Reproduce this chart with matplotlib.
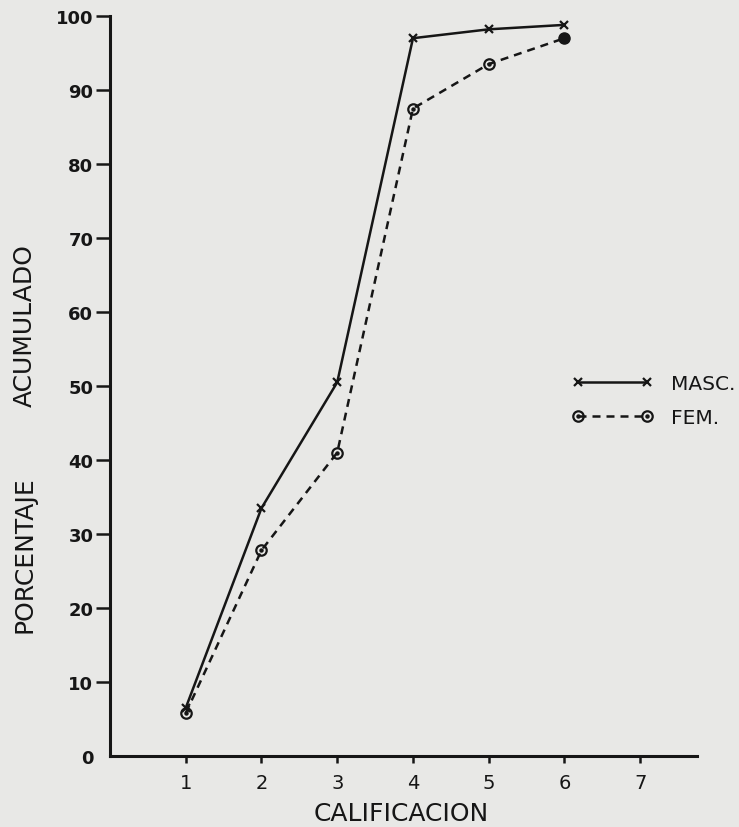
import matplotlib
matplotlib.use("Agg")
import matplotlib.pyplot as plt
from matplotlib.legend_handler import HandlerTuple

# Cumulative percentage by grade
calificacion = [1, 2, 3, 4, 5, 6]
masc = [6.5, 33.5, 50.5, 97.0, 98.2, 98.8]
fem = [5.8, 27.8, 41.0, 87.5, 93.5, 97.0]

x_ticks = [1, 2, 3, 4, 5, 6, 7]
y_ticks = [0, 10, 20, 30, 40, 50, 60, 70, 80, 90, 100]

ink = "#161616"
paper = "#e8e8e6"

plt.rcParams["font.family"] = ["DejaVu Sans"]

fig = plt.figure(figsize=(7.39, 8.28), dpi=100, facecolor=paper)
ax = fig.add_axes([110 / 739, 1 - 757 / 828, 587 / 739, 740 / 828])
ax.set_facecolor(paper)

# MASC: solid line with x markers
ax.plot(calificacion, masc, color=ink, lw=1.8, marker="x",
        markersize=5.5, markeredgewidth=1.6)

# FEM: dashed line with dotted-circle markers; last point filled
ax.plot(calificacion, fem, color=ink, lw=1.8, ls=(0, (3.2, 2.4)),
        marker="o", markersize=7.5, markerfacecolor="none",
        markeredgewidth=1.6, markevery=list(range(len(fem) - 1)))
ax.plot(calificacion[:-1], fem[:-1], ls="none", marker="o",
        markersize=2.2, color=ink)
ax.plot(calificacion[-1:], fem[-1:], ls="none", marker="o",
        markersize=8, color=ink)

ax.set_xlim(0, 7.75)
ax.set_ylim(0, 100)
ax.set_xticks(x_ticks)
ax.set_yticks(y_ticks)
ax.set_xticklabels([str(v) for v in x_ticks], fontsize=14, color=ink)
ax.set_yticklabels([str(v) for v in y_ticks], fontsize=13,
                   fontweight="bold", color=ink)

for side in ("top", "right"):
    ax.spines[side].set_visible(False)
for side in ("left", "bottom"):
    ax.spines[side].set_linewidth(2.2)
    ax.spines[side].set_color(ink)

ax.tick_params(axis="y", direction="out", length=10, width=1.8,
               pad=2, colors=ink)
ax.tick_params(axis="x", direction="out", length=5, width=1.8,
               pad=7, colors=ink)
ax.yaxis.get_major_ticks()[0].tick1line.set_visible(False)

# Axis titles
fig.text(401 / 739, 1 - 814 / 828, "CALIFICACION", fontsize=18,
         ha="center", va="center", color=ink)
fig.text(25 / 739, 1 - 555 / 828, "PORCENTAJE", fontsize=18,
         rotation=90, ha="center", va="center", color=ink)
fig.text(25 / 739, 1 - 326 / 828, "ACUMULADO", fontsize=18,
         rotation=90, ha="center", va="center", color=ink)

# Legend
h_m, = ax.plot([], [], color=ink, lw=1.8, marker="x", markersize=5.5,
               markeredgewidth=1.6)
h_f, = ax.plot([], [], color=ink, lw=1.8, ls=(0, (3.2, 2.4)), marker="o",
               markersize=7.5, markerfacecolor="none", markeredgewidth=1.6)
h_fd, = ax.plot([], [], ls="none", marker="o", markersize=2.2, color=ink)
leg = fig.legend([h_m, (h_f, h_fd)], ["MASC.", "FEM."],
                 handler_map={tuple: HandlerTuple(ndivide=1)},
                 loc="upper left", bbox_to_anchor=(572 / 739, 1 - 375 / 828),
                 frameon=False, numpoints=2, handlelength=4.0,
                 handletextpad=0.9, labelspacing=0.75, borderpad=0,
                 borderaxespad=0, fontsize=14.5)
for t in leg.get_texts():
    t.set_color(ink)

fig.savefig("out.png", dpi=100, facecolor=paper)
